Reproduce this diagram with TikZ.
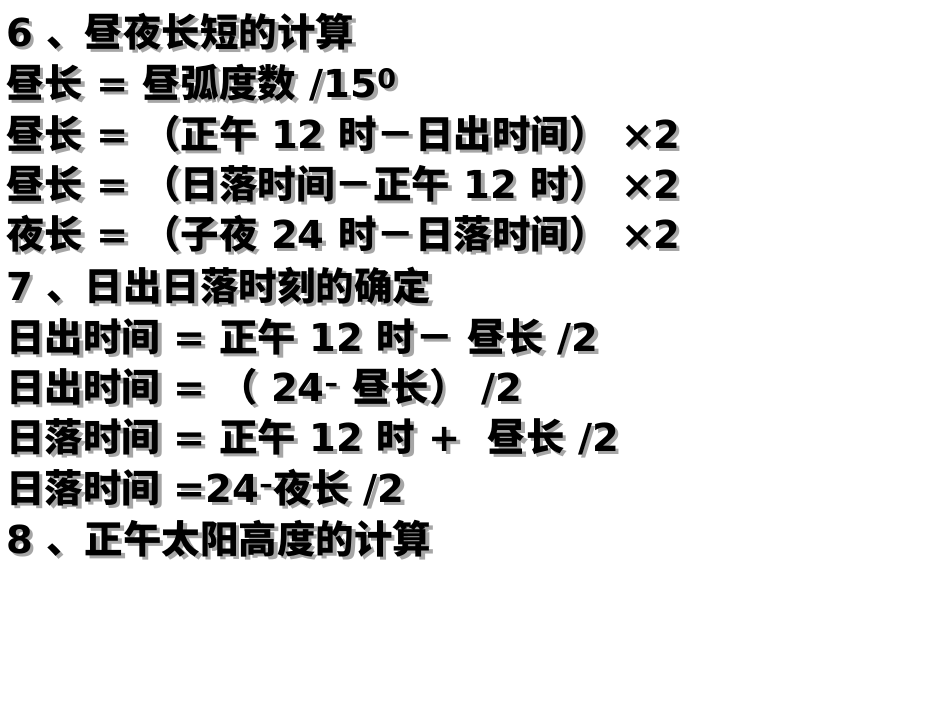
\documentclass[tikz,border=0pt]{standalone}
\usepackage{fontspec}
\setmainfont{DejaVu Sans}
\newfontfamily\cjkf{Noto Sans CJK SC Bold}
\newcommand\C[1]{{\cjkf #1}}
\begin{document}
\begin{tikzpicture}[x=1pt,y=-1pt]
\useasboundingbox[fill=white] (0,0) rectangle (950,713);
\tikzset{ln/.style={anchor=west,inner sep=0pt,font=\fontsize{38.5}{40}\selectfont\bfseries}}
\newcommand\sline[3]{\node[ln,text=gray!70] (#1s) at (9.5,#2+2.5) {#3};\node[ln] (#1) at (6,#2) {#3};}
\sline{l1}{32}{6 \C{、昼夜长短的计算}}
\sline{l2}{83}{\C{昼长} = \C{昼弧度数} /15\textsuperscript{0}}
\sline{l3}{134}{\C{昼长} = \C{（正午} 12 \C{时－日出时间）} ×2}
\sline{l4}{184}{\C{昼长} = \C{（日落时间－正午} 12 \C{时）} ×2}
\sline{l5}{234}{\C{夜长} = \C{（子夜} 24 \C{时－日落时间）} ×2}
\sline{l6}{286}{7 \C{、日出日落时刻的确定}}
\sline{l7}{337}{\C{日出时间} = \C{正午} 12 \C{时－} \C{昼长} /2}
\sline{l8}{387}{\C{日出时间} = \C{（} 24\textsuperscript{–} \C{昼长）} /2}
\sline{l9}{437}{\C{日落时间} = \C{正午} 12 \C{时} +\ \ \C{昼长} /2}
\sline{l10}{488}{\C{日落时间} =24\textsuperscript{–}\C{夜长} /2}
\sline{l11}{539}{8 \C{、正午太阳高度的计算}}
\end{tikzpicture}
\end{document}
